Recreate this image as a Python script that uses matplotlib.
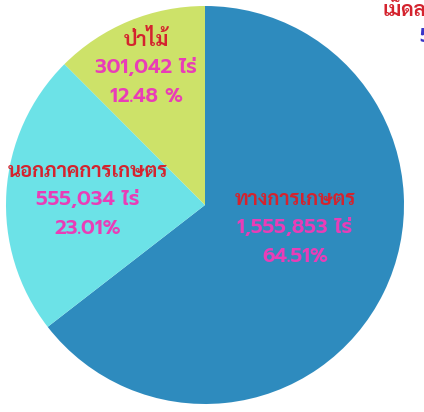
import matplotlib
matplotlib.use("Agg")
import matplotlib.pyplot as plt

# data
names = ["ทางการเกษตร", "นอกภาคการเกษตร", "ป่าไม้"]
rai = ["1,555,853 ไร่", "555,034 ไร่", "301,042 ไร่"]
pct_text = ["64.51%", "23.01%", "12.48 %"]
shares = [64.51, 23.01, 12.48]
colors = ["#2E8BBE", "#6CE2E7", "#CDE269"]

RED = "#D4232E"
PINK = "#E93DB7"

fig = plt.figure(figsize=(4.24, 4.12), dpi=100)
# axes placed so the pie sits at (205,204) px, radius ~199
ax = fig.add_axes([6 / 424, 8 / 412, 398 / 424, 398 / 412])
ax.pie(shares, colors=colors, startangle=90, counterclock=False, radius=1,
       wedgeprops=dict(linewidth=0))
ax.set_xlim(-1, 1)
ax.set_ylim(-1, 1)
ax.set_aspect("auto")
ax.axis("off")

# label positions in figure pixels (x, y of first line)
pos = [(295, 200), (88, 172), (146, 40)]
for i in range(3):
    x, y = pos[i]
    fig.text(x / 424, 1 - y / 412, names[i], color=RED, fontsize=14.5,
             fontweight="bold", family=["Sarabun", "DejaVu Sans"],
             ha="center", va="center")
    fig.text(x / 424, 1 - (y + 28) / 412, rai[i], color=PINK, fontsize=14.5,
             fontweight="semibold", family=["Prompt", "DejaVu Sans"],
             ha="center", va="center")
    fig.text(x / 424, 1 - (y + 56) / 412, pct_text[i], color=PINK, fontsize=14.5,
             fontweight="semibold", family=["Prompt", "DejaVu Sans"],
             ha="center", va="center")

# clipped text in the top right corner
fig.text(383 / 424, 1 - 9 / 412, "เม็ดละ", color=RED, fontsize=14.5,
         fontweight="bold", family=["Sarabun", "DejaVu Sans"], va="center")
fig.text(419 / 424, 1 - 37 / 412, "5", color="#3A35C8", fontsize=14.5,
         fontweight="semibold", family=["Prompt", "DejaVu Sans"], va="center")

fig.savefig("out.png", dpi=100)
